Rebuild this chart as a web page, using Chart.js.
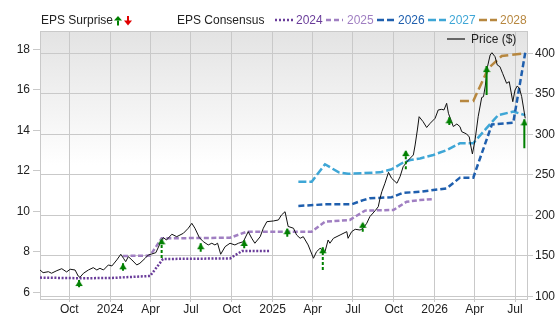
<!DOCTYPE html>
<html><head><meta charset="utf-8">
<script src="https://cdn.jsdelivr.net/npm/chart.js@4.4.1/dist/chart.umd.min.js"></script>
<style>
html,body{margin:0;padding:0;background:#fff;}
#wrap{position:relative;width:556px;height:315px;overflow:hidden;font-family:'Liberation Sans',Arial,sans-serif;font-size:12px;color:#222;}
#c{position:absolute;left:0;top:0;}
.lg{position:absolute;top:13px;line-height:14px;white-space:nowrap;}
.sw{position:absolute;}
</style></head><body>
<div id="wrap">
<canvas id="c" width="556" height="315"></canvas>
<div class="lg" style="left:41px">EPS Surprise</div>
<svg class="sw" style="left:114px;top:16px" width="8" height="10"><polygon points="4,0 0,4.5 8,4.5" fill="#008000"/><rect x="3" y="4.5" width="2" height="5" fill="#008000"/></svg>
<svg class="sw" style="left:124px;top:16px" width="8" height="10"><rect x="3" y="0" width="2" height="5" fill="#e00000"/><polygon points="0,4.5 8,4.5 4,9.5" fill="#e00000"/></svg>
<div class="lg" style="left:177px">EPS Consensus</div>
<svg class="sw" style="left:275px;top:17px" width="19" height="6"><line x1="0" y1="3" x2="19" y2="3" stroke="#6a3d9a" stroke-width="2.5" stroke-dasharray="2 2"/></svg>
<div class="lg" style="left:296px;color:#6a3d9a">2024</div>
<svg class="sw" style="left:326px;top:17px" width="17" height="6"><line x1="0" y1="3" x2="17" y2="3" stroke="#a07fc2" stroke-width="2.5" stroke-dasharray="5 3"/></svg>
<div class="lg" style="left:347px;color:#a07fc2">2025</div>
<svg class="sw" style="left:377px;top:17px" width="18" height="6"><line x1="0" y1="3" x2="18" y2="3" stroke="#1f5fae" stroke-width="2.5" stroke-dasharray="7 3"/></svg>
<div class="lg" style="left:398px;color:#1f5fae">2026</div>
<svg class="sw" style="left:428px;top:17px" width="18" height="6"><line x1="0" y1="3" x2="18" y2="3" stroke="#3ea6d6" stroke-width="2.5" stroke-dasharray="8 3"/></svg>
<div class="lg" style="left:449px;color:#3ea6d6">2027</div>
<svg class="sw" style="left:479px;top:17px" width="18" height="6"><line x1="0" y1="3" x2="18" y2="3" stroke="#b7873f" stroke-width="2.5" stroke-dasharray="8 3"/></svg>
<div class="lg" style="left:500px;color:#b7873f">2028</div>
<svg class="sw" style="left:447px;top:37px" width="18" height="4"><line x1="0" y1="2" x2="18" y2="2" stroke="#666" stroke-width="2"/></svg>
<div class="lg" style="left:471px;top:32px">Price ($)</div>
</div>
<script>
// ---- data ----
const xStart = '2023-07-27';
const xEnd = '2026-07-28';
const tickDates = ['2023-10-01','2024-01-01','2024-04-01','2024-07-01','2024-10-01','2025-01-01','2025-04-01','2025-07-01','2025-10-01','2026-01-01','2026-04-01','2026-07-01'];
const tickLabels = ['Oct','2024','Apr','Jul','Oct','2025','Apr','Jul','Oct','2026','Apr','Jul'];
const epsTicks = [6, 8, 10, 12, 14, 16, 18];
const priceTicks = [100, 150, 200, 250, 300, 350, 400];

const priceDates = ['2023-07-27','2023-08-03','2023-08-15','2023-08-22','2023-09-03','2023-09-14','2023-09-25','2023-10-03','2023-10-14','2023-10-21','2023-10-25','2023-11-02','2023-11-13','2023-11-24','2023-12-02','2023-12-09','2023-12-17','2023-12-28','2024-01-05','2024-01-16','2024-01-25','2024-01-31','2024-02-05','2024-02-11','2024-02-19','2024-03-01','2024-03-08','2024-03-20','2024-03-27','2024-04-04','2024-04-13','2024-04-21','2024-04-23','2024-04-30','2024-05-07','2024-05-19','2024-05-30','2024-06-14','2024-06-25','2024-07-03','2024-07-10','2024-07-20','2024-07-29','2024-08-09','2024-08-17','2024-08-24','2024-08-30','2024-09-06','2024-09-16','2024-09-27','2024-10-08','2024-10-16','2024-10-27','2024-11-07','2024-11-15','2024-11-22','2024-12-04','2024-12-11','2024-12-19','2025-01-03','2025-01-14','2025-01-21','2025-01-29','2025-02-05','2025-02-17','2025-02-24','2025-03-04','2025-03-11','2025-03-22','2025-04-03','2025-04-10','2025-04-18','2025-04-29','2025-05-06','2025-05-10','2025-05-18','2025-06-02','2025-06-17','2025-06-20','2025-06-28','2025-07-06','2025-07-17','2025-07-24','2025-08-01','2025-08-08','2025-08-20','2025-08-27','2025-08-31','2025-09-04','2025-09-11','2025-09-19','2025-09-26','2025-10-08','2025-10-15','2025-10-22','2025-11-03','2025-11-14','2025-11-18','2025-11-23','2025-11-27','2025-12-06','2025-12-14','2025-12-22','2026-01-02','2026-01-09','2026-01-17','2026-01-22','2026-01-28','2026-02-01','2026-02-08','2026-02-12','2026-02-20','2026-02-27','2026-03-03','2026-03-14','2026-03-20','2026-03-23','2026-03-27','2026-04-02','2026-04-09','2026-04-17','2026-04-21','2026-04-25','2026-04-30','2026-05-06','2026-05-10','2026-05-17','2026-05-22','2026-05-28','2026-06-03','2026-06-12','2026-06-18','2026-06-26','2026-07-01','2026-07-06','2026-07-11','2026-07-16','2026-07-24'];
const priceValues = [132.7,129.4,130.6,128.7,131.9,134.3,130.3,133.6,132.7,125.3,123.7,128.7,132.7,135.6,132.7,134.8,132.7,138.9,137.7,145.1,152.1,147.2,143.0,149.1,145.1,138.9,141.0,147.2,151.2,152.5,154.1,163.6,167.6,172.6,169.7,176.8,173.8,178.0,184.2,190.3,184.2,172.6,167.6,163.6,165.7,163.6,165.7,152.1,161.5,165.7,163.6,165.7,167.6,180.0,171.8,165.7,173.8,184.2,192.3,193.2,194.4,200.6,204.6,186.4,184.2,175.9,171.8,173.8,163.6,147.2,155.3,159.5,155.3,169.7,165.7,171.8,175.9,180.0,171.8,180.0,182.9,182.0,184.2,190.3,198.5,205.9,210.8,221.2,229.3,239.7,253.2,245.8,239.7,247.8,260.1,268.4,274.6,286.9,305.4,321.8,315.6,308.5,313.7,319.8,330.1,330.9,330.1,338.3,326.0,315.6,309.7,312.8,309.5,303.3,300.5,296.8,286.9,275.8,293.1,321.8,345.5,346.5,359.7,383.5,397.9,400.7,395.8,385.6,383.5,375.3,363.0,365.0,340.3,354.7,359.7,356.8,346.5,319.8];

const eps2024Dates = ['2023-07-27','2023-10-25','2023-12-31','2024-03-31','2024-04-29','2024-09-27','2024-10-24','2024-12-27'];
const eps2024Values = [6.72,6.69,6.70,6.80,7.64,7.67,8.03,8.03];
const eps2025Dates = ['2024-01-30','2024-03-31','2024-04-26','2024-09-27','2024-11-04','2025-03-30','2025-04-29','2025-06-24','2025-07-28','2025-09-30','2025-10-30','2025-11-29','2025-12-28'];
const eps2025Values = [7.79,7.81,8.66,8.69,8.99,8.99,9.48,9.57,10.03,10.06,10.47,10.55,10.60];
const eps2026Dates = ['2025-02-28','2025-04-29','2025-06-28','2025-07-24','2025-08-08','2025-09-26','2025-10-22','2025-11-29','2026-01-28','2026-02-27','2026-03-29','2026-05-10','2026-06-27','2026-07-24'];
const eps2026Values = [10.26,10.34,10.34,10.55,10.64,10.69,10.91,10.96,11.13,11.66,11.66,14.29,14.37,17.83];
const eps2027Dates = ['2025-02-28','2025-03-30','2025-04-29','2025-05-30','2025-06-20','2025-08-31','2025-09-26','2025-10-19','2025-11-07','2025-11-29','2025-12-29','2026-01-28','2026-02-27','2026-03-29','2026-05-24','2026-06-27','2026-07-24'];
const eps2027Values = [11.46,11.46,12.32,11.92,11.85,11.92,12.07,12.37,12.53,12.61,12.78,13.02,13.36,13.36,14.75,14.92,14.75];
const eps2028Dates = ['2026-02-27','2026-03-29','2026-05-02','2026-06-01','2026-07-24'];
const eps2028Values = [15.45,15.45,17.06,17.67,17.80];

const surpriseDates = ['2023-10-23','2024-01-30','2024-04-26','2024-07-23','2024-10-29','2025-02-03','2025-04-24','2025-07-23','2025-10-28','2026-02-03','2026-04-28','2026-07-22'];
const surpriseActual = [6.60,7.43,8.66,8.42,8.58,9.16,8.22,9.48,13.02,14.64,17.17,14.54];
const surpriseEstimate = [6.25,7.06,7.69,8.00,8.17,8.74,7.10,8.99,12.07,14.26,15.74,13.11];
const surpriseDashed = [true,false,true,false,true,true,true,true,true,true,false,false];

// ---- helpers ----
const DAY = 86400000;
function dayOf(s){ const p = s.split('-').map(Number); return Date.UTC(p[0], p[1]-1, p[2]) / DAY; }
const toXY = (dates, vals) => dates.map((d, i) => ({x: dayOf(d), y: vals[i]}));
function stems(dashed){
  const out = [];
  surpriseDates.forEach((d, i) => {
    if (surpriseDashed[i] === dashed) {
      out.push({x: dayOf(d), y: surpriseEstimate[i]}, {x: dayOf(d), y: surpriseActual[i]}, {x: dayOf(d), y: null});
    }
  });
  return out;
}
const GREEN = '#008000';
const head = document.createElement('canvas');
head.width = 8; head.height = 14;
(function(){ const h = head.getContext('2d'); h.fillStyle = GREEN; h.beginPath(); h.moveTo(4,7); h.lineTo(0.3,13); h.lineTo(7.7,13); h.closePath(); h.fill(); })();

const FONT = {family: "'Liberation Sans', Arial, sans-serif", size: 12};
const GRID = '#c9c9c9';

const bgPlugin = {
  id: 'bg',
  beforeDraw(chart){
    const {ctx, chartArea: a} = chart;
    const g = ctx.createLinearGradient(0, a.top, 0, a.bottom);
    g.addColorStop(0, '#e3e3e3');
    g.addColorStop(0.5, '#ffffff');
    g.addColorStop(1, '#ffffff');
    ctx.save(); ctx.fillStyle = g; ctx.fillRect(a.left, a.top, a.right - a.left, a.bottom - a.top); ctx.restore();
  },
  beforeDatasetsDraw(chart){
    const {ctx, chartArea: a} = chart;
    ctx.save(); ctx.strokeStyle = GRID; ctx.lineWidth = 1;
    ctx.beginPath(); ctx.moveTo(a.left, Math.round(a.top) + 0.5); ctx.lineTo(a.right, Math.round(a.top) + 0.5); ctx.stroke();
    ctx.restore();
  }
};

const lineDs = (label, data, color, dash, axis) => ({
  type: 'line', label, data, borderColor: color, borderWidth: 2.5, borderDash: dash,
  pointRadius: 0, tension: 0, fill: false, yAxisID: axis || 'yL', spanGaps: false
});

new Chart(document.getElementById('c'), {
  type: 'line',
  data: {
    datasets: [
      {type: 'line', label: 'heads', data: toXY(surpriseDates, surpriseActual), showLine: false,
       pointStyle: head, pointRadius: 4, yAxisID: 'yL'},
      {type: 'line', label: 'stemsSolid', data: stems(false), borderColor: GREEN, borderWidth: 2,
       pointRadius: 0, spanGaps: false, yAxisID: 'yL'},
      {type: 'line', label: 'stemsDashed', data: stems(true), borderColor: GREEN, borderWidth: 2, borderDash: [3, 2],
       pointRadius: 0, spanGaps: false, yAxisID: 'yL'},
      {type: 'line', label: 'Price ($)', data: toXY(priceDates, priceValues), borderColor: '#111', borderWidth: 1,
       pointRadius: 0, tension: 0, yAxisID: 'yR'},
      lineDs('2024', toXY(eps2024Dates, eps2024Values), '#6a3d9a', [2, 1.6]),
      lineDs('2025', toXY(eps2025Dates, eps2025Values), '#a07fc2', [5, 2.5]),
      lineDs('2026', toXY(eps2026Dates, eps2026Values), '#1f5fae', [6, 3]),
      lineDs('2027', toXY(eps2027Dates, eps2027Values), '#3ea6d6', [8, 3]),
      lineDs('2028', toXY(eps2028Dates, eps2028Values), '#b7873f', [9, 4])
    ]
  },
  options: {
    responsive: false, animation: false, events: [],
    layout: {padding: {top: 31, left: 0, right: 0, bottom: 0}},
    plugins: {legend: {display: false}, tooltip: {enabled: false}},
    scales: {
      x: {
        type: 'linear', position: 'bottom', min: dayOf(xStart), max: dayOf(xEnd),
        afterBuildTicks: (s) => { s.ticks = tickDates.map(d => ({value: dayOf(d)})); },
        afterFit: (s) => { s.height = 16; },
        ticks: {autoSkip: false, maxRotation: 0, padding: 0, color: '#222', font: FONT,
                callback: (v, i) => tickLabels[i]},
        grid: {color: GRID, tickLength: 3, drawOnChartArea: true},
        border: {display: true, color: GRID}
      },
      yL: {
        type: 'linear', position: 'left', min: 5.664, max: 18.904,
        afterBuildTicks: (s) => { s.ticks = epsTicks.map(v => ({value: v})); },
        afterFit: (s) => { s.width = 40; },
        ticks: {padding: 3, color: '#222', font: FONT, callback: (v) => String(v)},
        grid: {drawOnChartArea: false, color: GRID, tickLength: 7},
        border: {display: true, color: GRID}
      },
      yR: {
        type: 'linear', position: 'right', min: 96.92, max: 427.5,
        afterBuildTicks: (s) => { s.ticks = priceTicks.map(v => ({value: v})); },
        afterFit: (s) => { s.width = 29; },
        ticks: {padding: 2, color: '#222', font: FONT, callback: (v) => String(v)},
        grid: {drawOnChartArea: true, color: GRID, tickLength: 6},
        border: {display: true, color: GRID}
      }
    }
  },
  plugins: [bgPlugin]
});
</script>
</body></html>
